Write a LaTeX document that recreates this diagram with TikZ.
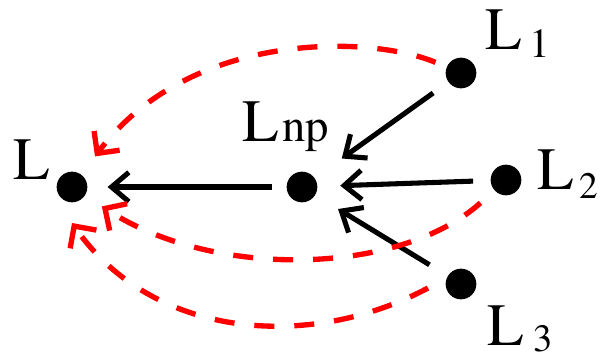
\documentclass[tikz,border=0pt]{standalone}
\usepackage{fontspec}
\setmainfont{TeX Gyre Termes}
\usetikzlibrary{arrows.meta}

% L with a smaller index: #1 index, #2 drop, #3 gap, #4 size
\newcommand{\lname}[4]{L\kern#3\raisebox{#2}{\fontsize{#4}{#4}\selectfont #1}}

\begin{document}
\begin{tikzpicture}[x=0.75pt, y=-0.75pt,
    dot/.style={circle, fill=black, inner sep=0pt, minimum size=23pt},
    lbl/.style={anchor=base west, inner sep=0pt, font=\fontsize{45}{45}\selectfont},
    solidarrow/.style={line width=3.8pt, -{Straight Barb[sharp, length=13pt, width=22pt]}},
    dasharrow/.style={red, line width=4pt, dash pattern=on 15pt off 15pt,
        -{Straight Barb[sharp, length=12pt, width=24pt]}}]
    \useasboundingbox (0,0) rectangle (600,360);

    % The five points.
    \node[dot] (L) at (72,187) {};
    \node[dot] (np) at (302,187) {};
    \node[dot] (L1) at (461,73) {};
    \node[dot] (L2) at (506,180) {};
    \node[dot] (L3) at (461,284) {};

    % Their names.
    \node[lbl] (lblL) at (13,180) {L};
    \node[lbl] (lblnp) at (242,142) {\lname{np}{0pt}{3pt}{35}};
    \node[lbl] (lbl1) at (485,50) {\lname{1}{-6pt}{6pt}{31}};
    \node[lbl] (lbl2) at (537,190) {\lname{2}{-6pt}{4pt}{28}};
    \node[lbl] (lbl3) at (487,345) {\lname{3}{-5pt}{7pt}{29}};

    % Solid arrows into the middle point and on to L.
    \draw[solidarrow, shorten <=11pt, shorten >=15pt] (np) -- (L);
    \draw[solidarrow, shorten <=13pt, shorten >=17pt] (L2) -- (np);
    \draw[solidarrow, shorten <=14pt, shorten >=25pt] (L1) -- (np);
    \draw[solidarrow, shorten <=16pt, shorten >=20pt] (L3) -- (np);

    % Dashed arrows straight to L.
    \draw[dasharrow, shorten <=9pt, shorten >=17pt]
        (L1) .. controls +(-91,-38) and +(118,-157) .. (L);
    \draw[dasharrow, shorten <=14pt, shorten >=15pt]
        (L2) .. controls +(-106,95) and +(143,93) .. (L);
    \draw[dasharrow]
        ([shift={(-33,4)}]L3.center) .. controls +(-120,64) and +(80,115) .. ([shift={(0,36)}]L.center);
\end{tikzpicture}
\end{document}
